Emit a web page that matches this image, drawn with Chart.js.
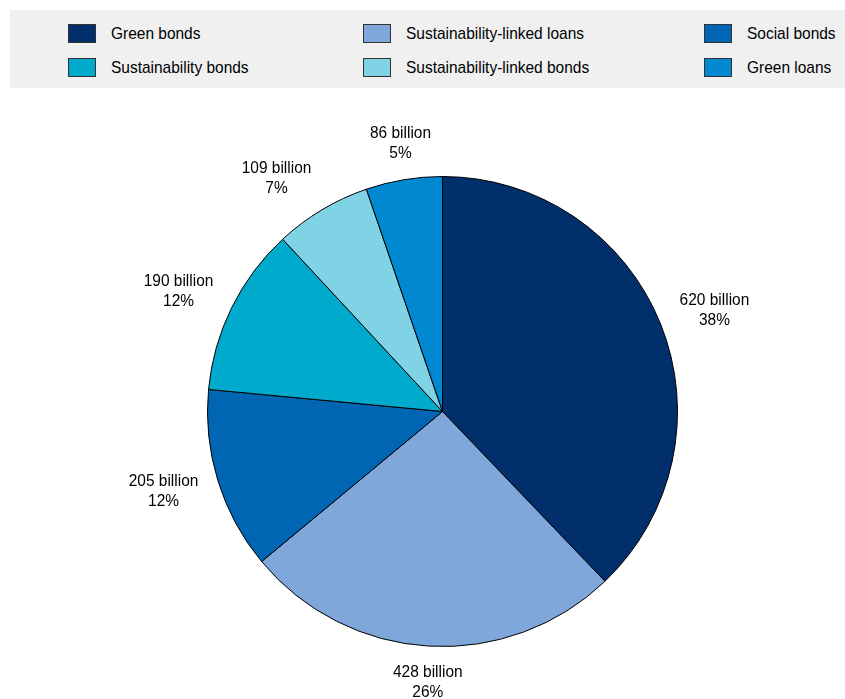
<!DOCTYPE html>
<html>
<head>
<meta charset="utf-8">
<script src="https://cdn.jsdelivr.net/npm/chart.js@4"></script>
<style>
  body { margin: 0; background: #fff; font-family: 'Liberation Sans', Arial, sans-serif; }
  #wrap { position: relative; width: 845px; height: 699px; }
  #legend { position: absolute; left: 10px; top: 10px; width: 835px; height: 78px; background: #f0f0f0; }
  .item { position: absolute; height: 19px; font-size: 17px; color: #000; white-space: nowrap; }
  .item span.box { position: absolute; left: 0; top: 0; width: 28px; height: 19px; border: 1px solid #333; box-sizing: border-box; }
  .item span.txt { position: absolute; left: 43px; top: 0; line-height: 19px; transform: scaleX(0.91); transform-origin: left center; }
  canvas { position: absolute; left: 0; top: 0; }
</style>
</head>
<body>
<div id="wrap">
  <div id="legend"></div>
  <canvas id="chartPie" width="845" height="699"></canvas>
</div>
<script>
const categorias = ['Green bonds', 'Sustainability-linked loans', 'Social bonds', 'Sustainability bonds', 'Sustainability-linked bonds', 'Green loans'];
const valores = [620, 428, 205, 190, 109, 86];
const rotulosValor = ['620 billion', '428 billion', '205 billion', '190 billion', '109 billion', '86 billion'];
const rotulosPct = ['38%', '26%', '12%', '12%', '7%', '5%'];
const cores = ['#002f6c', '#7fa7d9', '#0065b3', '#00aacc', '#80d2e5', '#0088d1'];

// legenda em 3 colunas, como no original
const colX = [58, 353, 694];
const rowY = [14, 48];
const legend = document.getElementById('legend');
categorias.forEach((nome, i) => {
  const div = document.createElement('div');
  div.className = 'item';
  div.style.left = colX[i % 3] + 'px';
  div.style.top = rowY[Math.floor(i / 3)] + 'px';
  div.innerHTML = '<span class="box" style="background:' + cores[i] + '"></span><span class="txt">' + nome + '</span>';
  legend.appendChild(div);
});

// fonte "estreita" simulada
const sx = 0.91;

const rotulosPlugin = {
  id: 'rotulos',
  afterDatasetsDraw(chart) {
    const c = chart.ctx;
    const meta = chart.getDatasetMeta(0);
    c.save();
    c.font = "17px 'Liberation Sans', Arial, sans-serif";
    c.fillStyle = '#000';
    c.textAlign = 'center';
    c.textBaseline = 'middle';
    const gap = 20.5, lh = 20, h = 32;
    meta.data.forEach((arc, i) => {
      const a = (arc.startAngle + arc.endAngle) / 2;
      const dx = Math.cos(a), dy = Math.sin(a);
      const w = sx * Math.max(c.measureText(rotulosValor[i]).width, c.measureText(rotulosPct[i]).width);
      const r = arc.outerRadius + gap;
      const k = Math.min(1, Math.max(0, (Math.abs(dx) - 0.2) * 4));
      const x = arc.x + r * dx + Math.sign(dx) * k * w / 2;
      const y = arc.y + r * dy + dy * h / 2;
      c.save();
      c.translate(x, y);
      c.scale(sx, 1);
      c.fillText(rotulosValor[i], 0, -lh / 2);
      c.fillText(rotulosPct[i], 0, lh / 2);
      c.restore();
    });
    c.restore();
  }
};

const ctx = document.getElementById('chartPie');

let chartPie = new Chart(ctx, {
  type: 'pie',
  data: {
    labels: categorias,
    datasets: [{
      data: valores,
      backgroundColor: cores,
      borderColor: '#000',
      borderWidth: 1,
      hoverOffset: 0
    }]
  },
  options: {
    responsive: false,
    animation: false,
    layout: { padding: { top: 176, bottom: 52, left: 207, right: 167 } },
    plugins: {
      legend: { display: false },
      tooltip: { enabled: false }
    }
  },
  plugins: [rotulosPlugin]
});
</script>
</body>
</html>
